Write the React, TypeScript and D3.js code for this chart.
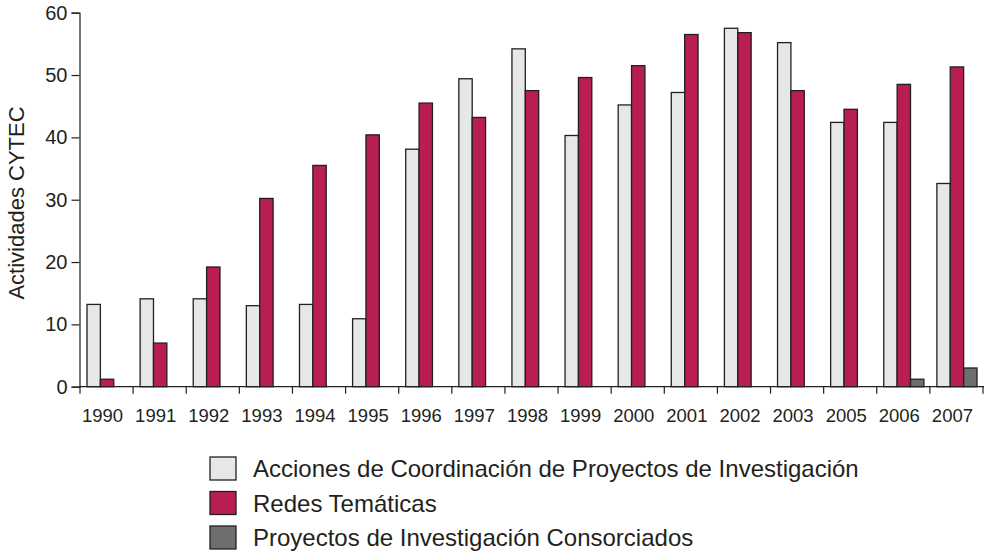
import React, { useRef, useEffect } from 'react';
import * as d3 from 'd3';

const years = ['1990', '1991', '1992', '1993', '1994', '1995', '1996', '1997', '1998', '1999', '2000', '2001', '2002', '2003', '2005', '2006', '2007'];
const acciones = [13.2, 14.1, 14.1, 13, 13.2, 10.9, 38.1, 49.4, 54.2, 40.3, 45.2, 47.2, 57.5, 55.2, 42.4, 42.4, 32.6];
const redes = [1.2, 7, 19.2, 30.2, 35.5, 40.4, 45.5, 43.2, 47.5, 49.6, 51.5, 56.5, 56.8, 47.5, 44.5, 48.5, 51.3];
const consorciados = [0, 0, 0, 0, 0, 0, 0, 0, 0, 0, 0, 0, 0, 0, 0, 1.2, 3];
const seriesNames = [
  'Acciones de Coordinación de Proyectos de Investigación',
  'Redes Temáticas',
  'Proyectos de Investigación Consorciados',
];
const colors = ['#e6e7e8', '#b81e52', '#6d6e70'];
const yTicks = [0, 10, 20, 30, 40, 50, 60];

const App: React.FC = () => {
  const svgRef = useRef<SVGSVGElement | null>(null);

  useEffect(() => {
    if (!svgRef.current) return;
    const svg = d3.select(svgRef.current);
    svg.selectAll('*').remove();
    const font = 'Liberation Sans, Arial, sans-serif';
    const ink = '#231f20';

    const x0 = d3.scaleBand<string>().domain(years).range([80, 983]);
    const x1 = d3.scaleBand<number>().domain([0, 1, 2]).range([7, x0.bandwidth() - 6]);
    const y = d3.scaleLinear().domain([0, 60]).range([386.7, 12.7]);

    const all = [acciones, redes, consorciados];

    // bars
    all.forEach((vals, s) => {
      svg
        .append('g')
        .selectAll('rect')
        .data(vals)
        .join('rect')
        .attr('x', (_, i) => (x0(years[i]) as number) + (x1(s) as number))
        .attr('y', (d) => y(d))
        .attr('width', x1.bandwidth())
        .attr('height', (d) => y(0) - y(d))
        .attr('fill', colors[s])
        .attr('stroke', ink)
        .attr('stroke-width', 1.3);
    });

    // y axis
    const yAxis = d3.axisLeft(y).tickValues(yTicks).tickSize(8).tickPadding(4);
    const gy = svg.append('g').attr('transform', 'translate(79.5,0)').call(yAxis);
    gy.selectAll('text').attr('font-size', 20).attr('font-family', font).attr('fill', ink);
    gy.selectAll('line, path').attr('stroke', ink).attr('stroke-width', 1.2);

    // x axis: boundary ticks + centred labels
    const gx = svg.append('g').attr('transform', `translate(0,${y(0)})`);
    gx.append('line').attr('x1', 79.5).attr('x2', 984).attr('stroke', ink).attr('stroke-width', 1.2);
    const bounds = [...years.map((d) => x0(d) as number), 983];
    gx.selectAll('line.tk')
      .data(bounds)
      .join('line')
      .attr('class', 'tk')
      .attr('x1', (d) => d)
      .attr('x2', (d) => d)
      .attr('y2', 7)
      .attr('stroke', ink)
      .attr('stroke-width', 1.2);
    gx.selectAll('text')
      .data(years)
      .join('text')
      .attr('x', (d) => (x0(d) as number) + x0.bandwidth() / 2 - 4)
      .attr('y', 35)
      .attr('text-anchor', 'middle')
      .attr('font-size', 18.5)
      .attr('font-family', font)
      .attr('fill', ink)
      .text((d) => d);

    // y label
    svg
      .append('text')
      .attr('transform', 'translate(24,203) rotate(-90)')
      .attr('text-anchor', 'middle')
      .attr('font-size', 22)
      .attr('font-family', font)
      .attr('fill', ink)
      .text('Actividades CYTEC');

    // legend
    const lg = svg.append('g').attr('transform', 'translate(210,457)');
    seriesNames.forEach((name, i) => {
      const row = lg.append('g').attr('transform', `translate(0,${i * 34.5})`);
      row
        .append('rect')
        .attr('width', 26)
        .attr('height', 23)
        .attr('fill', colors[i])
        .attr('stroke', ink)
        .attr('stroke-width', 1.3);
      row
        .append('text')
        .attr('x', 43)
        .attr('y', 20)
        .attr('font-size', 24)
        .attr('font-family', font)
        .attr('fill', ink)
        .text(name);
    });
  }, []);

  return (
    <svg
      ref={svgRef}
      width={986}
      height={555}
      style={{ position: 'absolute', left: 0, top: 0, background: '#fff' }}
    />
  );
};

export default App;
